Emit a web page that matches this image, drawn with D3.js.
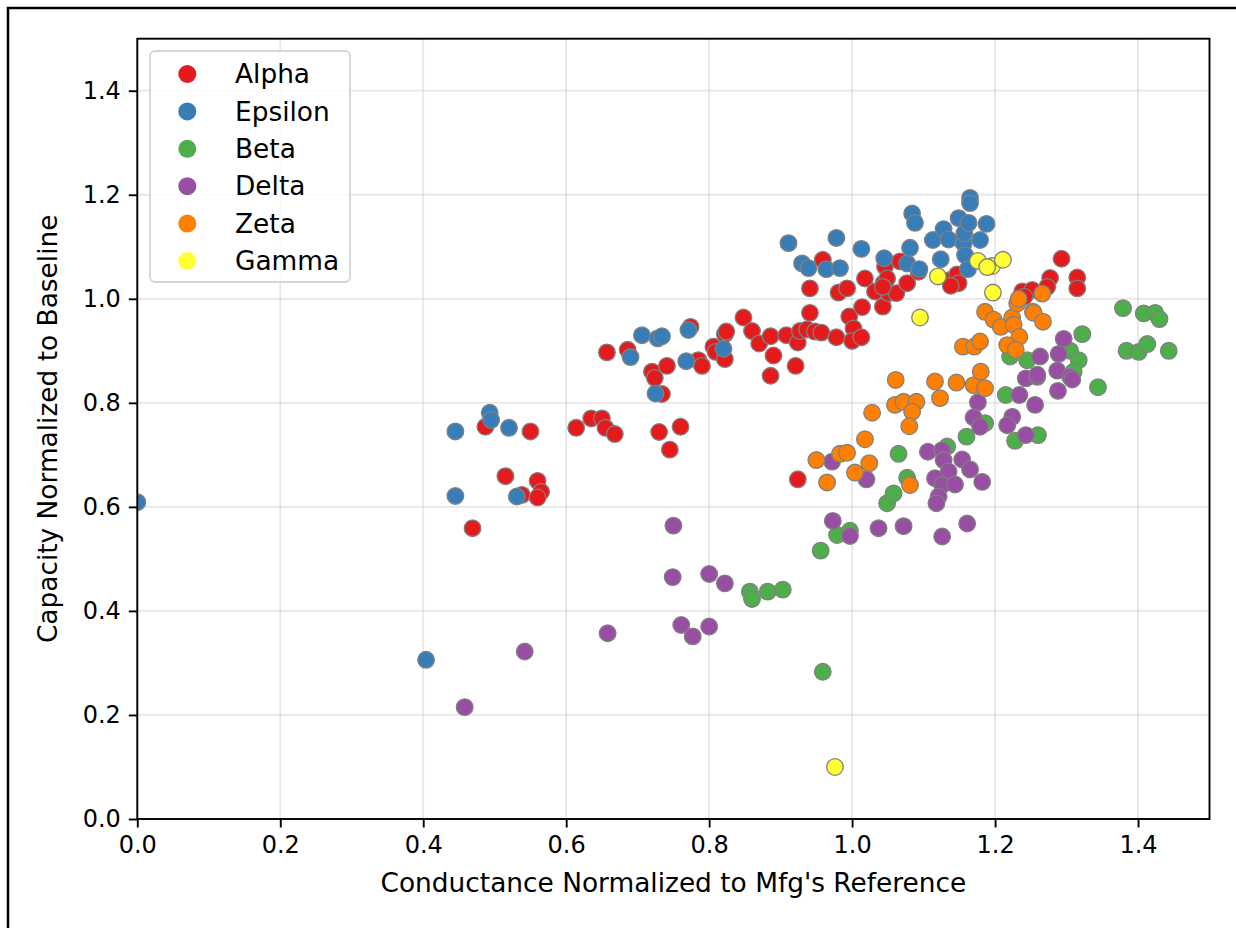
<!DOCTYPE html>
<html>
<head>
<meta charset="utf-8">
<script src="https://cdn.jsdelivr.net/npm/d3@7"></script>
<style>
  html, body { margin: 0; padding: 0; background: #fff; }
  svg { display: block; font-family: "DejaVu Sans", sans-serif; }
</style>
</head>
<body>
<svg id="chart" width="1236" height="928"></svg>
<script>
// Series names in legend / draw order
const seriesNames = ["Alpha", "Epsilon", "Beta", "Delta", "Zeta", "Gamma"];
const seriesColors = ["#e41a1c", "#377eb8", "#4daf4a", "#984ea3", "#ff7f00", "#ffff33"];

// [conductance, capacity] pairs per series
const alpha = [
  [0.469,0.559],[0.487,0.754],[0.515,0.659],[0.538,0.623],[0.55,0.745],[0.56,0.65],[0.565,0.629],[0.56,0.618],
  [0.614,0.752],[0.635,0.77],[0.65,0.77],[0.655,0.752],[0.668,0.74],
  [0.657,0.897],[0.686,0.902],[0.72,0.86],[0.724,0.848],[0.741,0.871],[0.734,0.817],[0.73,0.744],[0.745,0.71],[0.76,0.754],
  [0.774,0.946],[0.785,0.882],[0.79,0.871],[0.806,0.908],[0.809,0.898],[0.822,0.932],[0.824,0.937],[0.822,0.884],
  [0.848,0.964],[0.86,0.938],[0.87,0.914],[0.886,0.928],[0.89,0.891],[0.886,0.852],[0.908,0.93],[0.924,0.916],
  [0.921,0.871],[0.927,0.938],[0.941,0.973],[0.937,0.941],[0.948,0.937],[0.957,0.935],[0.941,1.02],[0.978,0.926],
  [0.981,1.012],[0.993,1.02],[0.996,0.966],[1.002,0.943],[1.0,0.919],[1.013,0.926],[1.014,0.984],[1.018,1.039],
  [1.032,1.014],[1.044,1.03],[1.043,0.985],[1.046,1.062],[1.051,1.011],[1.062,1.011],[1.077,1.03],[0.959,1.075],
  [0.924,0.653],[1.049,1.039],[1.043,1.023],[1.093,1.052],[1.067,1.072],[1.137,1.036],[1.147,1.047],[1.149,1.03],
  [1.138,1.025],[1.238,1.014],[1.252,1.017],[1.241,1.004],[1.293,1.077],[1.277,1.04],[1.273,1.023],[1.315,1.041],[1.315,1.02]
];
const epsilon = [
  [0.0,0.609],[0.445,0.745],[0.493,0.781],[0.495,0.767],[0.52,0.752],[0.531,0.62],[0.445,0.621],[0.404,0.306],
  [0.69,0.888],[0.706,0.93],[0.728,0.924],[0.734,0.928],[0.771,0.94],[0.725,0.818],[0.768,0.88],[0.82,0.904],
  [0.911,1.107],[0.93,1.068],[0.939,1.059],[0.964,1.057],[0.983,1.059],[0.978,1.117],[1.013,1.096],[1.045,1.078],
  [1.077,1.068],[1.081,1.098],[1.094,1.057],[1.084,1.164],[1.088,1.146],[1.113,1.113],[1.124,1.076],[1.128,1.134],
  [1.135,1.114],[1.149,1.155],[1.156,1.107],[1.157,1.126],[1.158,1.084],[1.162,1.057],[1.163,1.146],[1.165,1.194],
  [1.165,1.184],[1.179,1.113],[1.188,1.144]
];
const beta = [
  [0.959,0.283],[0.956,0.516],[0.979,0.546],[0.997,0.554],[0.857,0.437],[0.86,0.423],[0.882,0.437],[0.903,0.441],
  [1.049,0.607],[1.058,0.626],[1.065,0.702],[1.077,0.656],[1.133,0.716],[1.16,0.735],[1.186,0.761],[1.215,0.815],
  [1.228,0.727],[1.26,0.738],[1.221,0.889],[1.245,0.882],[1.305,0.9],[1.317,0.882],[1.31,0.86],[1.322,0.932],
  [1.344,0.83],[1.379,0.982],[1.408,0.972],[1.424,0.973],[1.43,0.961],[1.384,0.9],[1.401,0.898],[1.413,0.913],[1.443,0.9]
];
const delta = [
  [0.458,0.215],[0.542,0.322],[0.658,0.357],[0.75,0.564],[0.749,0.465],[0.80,0.471],[0.822,0.453],[0.761,0.373],
  [0.777,0.351],[0.80,0.37],[0.973,0.573],[0.997,0.544],[1.037,0.559],[1.072,0.563],[1.126,0.543],[1.161,0.568],
  [0.972,0.687],[1.02,0.653],[1.106,0.706],[1.126,0.709],[1.128,0.69],[1.154,0.691],[1.165,0.672],[1.135,0.668],
  [1.116,0.655],[1.126,0.642],[1.144,0.643],[1.182,0.648],[1.121,0.62],[1.118,0.607],[1.176,0.801],[1.170,0.772],
  [1.179,0.754],[1.234,0.815],[1.243,0.847],[1.259,0.85],[1.224,0.773],[1.217,0.757],[1.243,0.738],[1.256,0.796],
  [1.296,0.923],[1.289,0.894],[1.263,0.889],[1.287,0.862],[1.259,0.854],[1.305,0.85],[1.308,0.845],[1.288,0.823]
];
const zeta = [
  [0.95,0.69],[0.965,0.647],[0.983,0.702],[0.993,0.704],[1.004,0.666],[1.024,0.684],[1.018,0.73],[1.028,0.781],
  [1.06,0.796],[1.061,0.844],[1.072,0.802],[1.09,0.802],[1.084,0.783],[1.08,0.755],[1.081,0.642],[1.116,0.841],
  [1.146,0.839],[1.17,0.834],[1.18,0.86],[1.186,0.828],[1.123,0.809],[1.155,0.908],[1.171,0.908],[1.179,0.918],
  [1.186,0.975],[1.198,0.96],[1.208,0.946],[1.224,0.964],[1.226,0.95],[1.231,0.991],[1.233,1.0],[1.253,0.975],
  [1.234,0.927],[1.217,0.911],[1.229,0.902],[1.266,1.01],[1.254,0.973],[1.267,0.956]
];
const gamma = [
  [1.176,1.073],[1.196,1.063],[1.211,1.075],[1.189,1.061],[1.12,1.043],[1.197,1.012],[1.095,0.964],[0.976,0.10]
];
const seriesData = [alpha, epsilon, beta, delta, zeta, gamma];

const xTicks = [0.0, 0.2, 0.4, 0.6, 0.8, 1.0, 1.2, 1.4];
const yTicks = [0.0, 0.2, 0.4, 0.6, 0.8, 1.0, 1.2, 1.4];
const xLabel = "Conductance Normalized to Mfg's Reference";
const yLabel = "Capacity Normalized to Baseline";

const svg = d3.select("#chart");
const TICK_FS = 24;
const LABEL_FS = 26.4;

// figure frame
svg.append("rect")
  .attr("x", 8).attr("y", 8).attr("width", 1260).attr("height", 960)
  .attr("fill", "none").attr("stroke", "#000").attr("stroke-width", 2.5);

const plot = { left: 137.3, right: 1209.5, top: 38.7, bottom: 819 };
const x = d3.scaleLinear().domain([0, 1.5]).range([plot.left, plot.right]);
const y = d3.scaleLinear().domain([0, 1.5]).range([plot.bottom, plot.top]);

// grid
const grid = svg.append("g").attr("stroke", "#b0b0b0").attr("stroke-opacity", 0.3).attr("stroke-width", 1.8);
grid.selectAll("line.gx").data(xTicks).join("line")
  .attr("x1", d => x(d)).attr("x2", d => x(d)).attr("y1", plot.top).attr("y2", plot.bottom);
grid.selectAll("line.gy").data(yTicks).join("line")
  .attr("y1", d => y(d)).attr("y2", d => y(d)).attr("x1", plot.left).attr("x2", plot.right);

// points, clipped to the axes box
svg.append("clipPath").attr("id", "plotClip").append("rect")
  .attr("x", plot.left).attr("y", plot.top)
  .attr("width", plot.right - plot.left).attr("height", plot.bottom - plot.top);

const pts = svg.append("g").attr("clip-path", "url(#plotClip)");
seriesData.forEach((data, i) => {
  pts.append("g").selectAll("circle").data(data).join("circle")
    .attr("cx", d => x(d[0])).attr("cy", d => y(d[1])).attr("r", 8.3)
    .attr("fill", seriesColors[i]).attr("stroke", "#808080").attr("stroke-width", 1.3);
});

// axes
const xAxis = d3.axisBottom(x).tickValues(xTicks).tickFormat(d3.format(".1f")).tickSize(8.5).tickPadding(8);
const yAxis = d3.axisLeft(y).tickValues(yTicks).tickFormat(d3.format(".1f")).tickSize(8.5).tickPadding(8);
const gx = svg.append("g").attr("transform", `translate(0,${plot.bottom})`).call(xAxis);
const gy = svg.append("g").attr("transform", `translate(${plot.left},0)`).call(yAxis);
[gx, gy].forEach(g => {
  g.select(".domain").remove();
  g.selectAll(".tick line").attr("stroke", "#000").attr("stroke-width", 1.9);
  g.selectAll(".tick text").attr("font-size", TICK_FS).attr("fill", "#000")
    .attr("font-family", "DejaVu Sans");
});

// spines
svg.append("rect")
  .attr("x", plot.left).attr("y", plot.top)
  .attr("width", plot.right - plot.left).attr("height", plot.bottom - plot.top)
  .attr("fill", "none").attr("stroke", "#000").attr("stroke-width", 1.9);

// axis titles
svg.append("text")
  .attr("x", (plot.left + plot.right) / 2).attr("y", 892)
  .attr("text-anchor", "middle").attr("font-size", LABEL_FS).attr("fill", "#000")
  .text(xLabel);
svg.append("text")
  .attr("transform", `translate(57,${(plot.top + plot.bottom) / 2}) rotate(-90)`)
  .attr("text-anchor", "middle").attr("font-size", LABEL_FS).attr("fill", "#000")
  .text(yLabel);

// legend
const lg = svg.append("g");
lg.append("rect")
  .attr("x", 150).attr("y", 51).attr("width", 200).attr("height", 231)
  .attr("rx", 5).attr("fill", "#fff").attr("fill-opacity", 0.8)
  .attr("stroke", "#d6d6d6").attr("stroke-width", 1.9);
const rowY = i => 74 + i * 37.4;
lg.selectAll("circle").data(seriesNames).join("circle")
  .attr("cx", 187.3).attr("cy", (d, i) => rowY(i)).attr("r", 9)
  .attr("fill", (d, i) => seriesColors[i]);
lg.selectAll("text").data(seriesNames).join("text")
  .attr("x", 235).attr("y", (d, i) => rowY(i)).attr("dy", "0.35em")
  .attr("font-size", LABEL_FS).attr("fill", "#000").text(d => d);
</script>
</body>
</html>
